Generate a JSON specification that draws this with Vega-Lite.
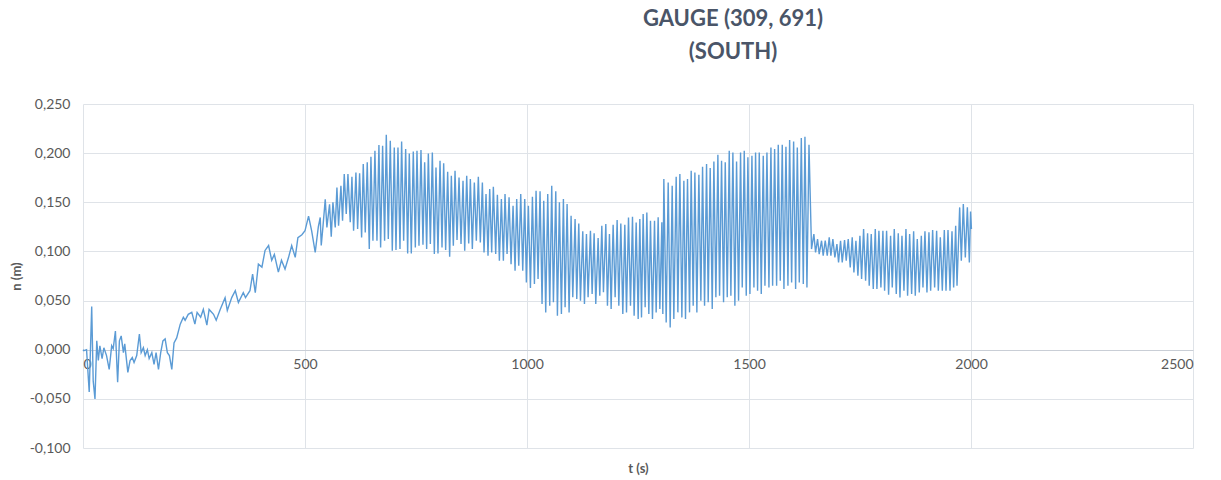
{
  "$schema": "https://vega.github.io/schema/vega-lite/v6.json",
  "width": 1110,
  "height": 344,
  "autosize": {"type": "none"},
  "padding": {"left": 83, "top": 104, "right": 28, "bottom": 32},
  "background": "white",
  "title": {
    "text": ["GAUGE (309, 691)", "(SOUTH)"],
    "anchor": "middle",
    "frame": "group",
    "dx": 95,
    "offset": 33,
    "font": "Lato",
    "fontSize": 22,
    "fontWeight": "bold",
    "color": "#4A5568",
    "lineHeight": 33
  },
  "config": {
    "view": {"stroke": null},
    "axis": {"labelFont": "Lato", "titleFont": "Lato", "labelColor": "#595959", "titleColor": "#595959"}
  },
  "data": {"values": [
    {"t":0,"n":0.000},{"t":2,"n":-0.001},{"t":8,"n":0.000},{"t":14,"n":-0.043},{"t":19.6,"n":0.044},{"t":23,"n":-0.032},{"t":27,"n":-0.050},{"t":31,"n":0.009},{"t":34.5,"n":-0.011},{"t":38,"n":0.004},{"t":43,"n":-0.009},{"t":47,"n":0.002},{"t":53,"n":-0.006},{"t":59,"n":-0.020},{"t":64.6,"n":0.004},{"t":68,"n":0.001},{"t":73,"n":0.019},{"t":78,"n":-0.033},{"t":82,"n":0.009},{"t":86,"n":0.014},{"t":91,"n":-0.003},{"t":94,"n":0.006},{"t":101,"n":-0.023},{"t":106,"n":-0.011},{"t":111,"n":-0.008},{"t":115,"n":-0.013},{"t":121,"n":-0.006},{"t":127,"n":0.016},{"t":131,"n":-0.003},{"t":136,"n":0.002},{"t":140,"n":-0.006},{"t":145,"n":0.000},{"t":149,"n":-0.009},{"t":155,"n":-0.003},{"t":160,"n":-0.015},{"t":164.6,"n":-0.003},{"t":170,"n":-0.020},{"t":175,"n":-0.003},{"t":180,"n":0.009},{"t":185,"n":0.011},{"t":190,"n":-0.003},{"t":194.6,"n":-0.006},{"t":200,"n":-0.020},{"t":205,"n":0.007},{"t":211,"n":0.012},{"t":219,"n":0.026},{"t":226,"n":0.033},{"t":230,"n":0.030},{"t":237,"n":0.036},{"t":245,"n":0.038},{"t":252,"n":0.026},{"t":257,"n":0.038},{"t":265,"n":0.033},{"t":271,"n":0.041},{"t":279,"n":0.025},{"t":284,"n":0.041},{"t":294,"n":0.036},{"t":300,"n":0.030},{"t":309,"n":0.041},{"t":320,"n":0.053},{"t":325,"n":0.040},{"t":335,"n":0.053},{"t":343,"n":0.060},{"t":350,"n":0.048},{"t":361,"n":0.058},{"t":366,"n":0.053},{"t":376,"n":0.060},{"t":382,"n":0.077},{"t":388,"n":0.058},{"t":395,"n":0.087},{"t":403,"n":0.084},{"t":410,"n":0.101},{"t":418,"n":0.106},{"t":425,"n":0.091},{"t":431,"n":0.097},{"t":440,"n":0.079},{"t":447,"n":0.091},{"t":455,"n":0.082},{"t":463,"n":0.094},{"t":470,"n":0.106},{"t":478,"n":0.094},{"t":484,"n":0.114},{"t":493,"n":0.117},{"t":500,"n":0.121},{"t":508,"n":0.136},{"t":515,"n":0.121},{"t":523,"n":0.099},{"t":530,"n":0.125},{"t":534.3,"n":0.1346},{"t":536.6,"n":0.106},{"t":540.3,"n":0.1245},
    {"t":545.6,"n":0.153},{"t":549.3,"n":0.1245},{"t":555.3,"n":0.148},{"t":559.1,"n":0.115},{"t":562.9,"n":0.1499},{"t":568.1,"n":0.1245},{"t":571.9,"n":0.1651},{"t":575.6,"n":0.1262},{"t":580.9,"n":0.1668},{"t":584.6,"n":0.1313},{"t":588.4,"n":0.1787},{"t":592.9,"n":0.1381},{"t":596.7,"n":0.1787},{"t":601.9,"n":0.1296},{"t":605.7,"n":0.176},{"t":609.4,"n":0.1211},{"t":614.7,"n":0.1804},{"t":618.5,"n":0.1228},{"t":623,"n":0.1794},{"t":627.5,"n":0.1143},{"t":631.2,"n":0.1889},{"t":635.7,"n":0.1194},{"t":640.2,"n":0.1906},{"t":644.8,"n":0.1024},{"t":648.5,"n":0.1963},{"t":653,"n":0.1109},{"t":657.5,"n":0.2024},{"t":662.1,"n":0.1109},{"t":666.5,"n":0.2082},{"t":670.3,"n":0.1041},{"t":674.8,"n":0.2075},{"t":679.3,"n":0.1109},{"t":683.1,"n":0.2187},{"t":687.6,"n":0.1126},{"t":692.1,"n":0.2126},{"t":696.6,"n":0.1007},{"t":701.1,"n":0.2058},{"t":704.9,"n":0.1014},{"t":709.4,"n":0.2058},{"t":713.9,"n":0.1024},{"t":717.6,"n":0.2119},{"t":722.2,"n":0.1109},{"t":726.7,"n":0.2041},{"t":731.2,"n":0.098},{"t":734.9,"n":0.1997},{"t":739.4,"n":0.098},{"t":743.9,"n":0.2017},{"t":748.5,"n":0.1041},{"t":752.2,"n":0.2024},{"t":756.7,"n":0.1058},{"t":761.2,"n":0.2031},{"t":765.7,"n":0.1068},{"t":769.5,"n":0.1906},{"t":774,"n":0.1024},{"t":777.8,"n":0.1997},{"t":782.3,"n":0.1075},{"t":786.8,"n":0.2007},{"t":791.3,"n":0.0973},{"t":795,"n":0.1855},{"t":799.5,"n":0.098},{"t":804.1,"n":0.1923},{"t":808.6,"n":0.1041},{"t":812.3,"n":0.1896},{"t":816.8,"n":0.1014},{"t":821.3,"n":0.1811},{"t":825.8,"n":0.0946},{"t":829.6,"n":0.177},{"t":834.1,"n":0.1058},{"t":837.9,"n":0.1821},{"t":842.4,"n":0.1116},{"t":846.9,"n":0.1753},{"t":851.4,"n":0.1075},{"t":855.9,"n":0.1719},{"t":859.7,"n":0.1007},{"t":864.2,"n":0.177},{"t":868.7,"n":0.1082},
    {"t":872.4,"n":0.1736},{"t":876.9,"n":0.1024},{"t":881.4,"n":0.1702},{"t":885.9,"n":0.1109},{"t":890.4,"n":0.176},{"t":894.9,"n":0.1092},{"t":899.5,"n":0.1702},{"t":903.2,"n":0.099},{"t":907.7,"n":0.1584},{"t":912.2,"n":0.0956},{"t":916,"n":0.1634},{"t":920.5,"n":0.099},{"t":924.2,"n":0.1658},{"t":929.5,"n":0.0973},{"t":933.3,"n":0.1577},{"t":937.8,"n":0.0905},{"t":942.3,"n":0.1533},{"t":946.8,"n":0.0905},{"t":950.5,"n":0.1584},{"t":955.1,"n":0.0973},{"t":959.6,"n":0.155},{"t":964.1,"n":0.0871},{"t":968.6,"n":0.1465},{"t":973.1,"n":0.0803},{"t":976.8,"n":0.1533},{"t":981.4,"n":0.0854},{"t":985.9,"n":0.1584},{"t":990.4,"n":0.0803},{"t":994.9,"n":0.1533},{"t":998.6,"n":0.0685},{"t":1003.1,"n":0.1465},{"t":1007.7,"n":0.0627},{"t":1012.2,"n":0.1557},{"t":1016.7,"n":0.0668},{"t":1020.4,"n":0.1617},{"t":1024.9,"n":0.0719},{"t":1029.4,"n":0.1611},{"t":1033.9,"n":0.0465},{"t":1037.7,"n":0.1516},{"t":1042.2,"n":0.038},{"t":1046.7,"n":0.1584},{"t":1051.2,"n":0.0448},{"t":1055.7,"n":0.1668},{"t":1059.5,"n":0.0482},{"t":1064.8,"n":0.1611},{"t":1068.5,"n":0.0346},{"t":1073,"n":0.1499},{"t":1077.5,"n":0.0363},{"t":1082,"n":0.1533},{"t":1085.8,"n":0.0431},{"t":1090.3,"n":0.1482},{"t":1094.8,"n":0.038},{"t":1099.3,"n":0.1363},{"t":1103.1,"n":0.0533},{"t":1108.3,"n":0.1329},{"t":1112.1,"n":0.0516},{"t":1116.6,"n":0.1285},{"t":1120.4,"n":0.0499},{"t":1125.6,"n":0.1204},{"t":1129.4,"n":0.0465},{"t":1133.9,"n":0.1177},{"t":1137.6,"n":0.0533},{"t":1142.9,"n":0.1211},{"t":1146.7,"n":0.0567},{"t":1151.2,"n":0.1184},{"t":1154.9,"n":0.0465},{"t":1160.2,"n":0.1136},{"t":1163.9,"n":0.055},{"t":1168.5,"n":0.1261},{"t":1172.2,"n":0.0584},{"t":1177.5,"n":0.1278},{"t":1181.2,"n":0.0448},{"t":1185.7,"n":0.1177},{"t":1189.5,"n":0.0414},{"t":1194,"n":0.1271},{"t":1198.5,"n":0.0533},{"t":1203,"n":0.1319},{"t":1206.8,"n":0.0448},{"t":1211.3,"n":0.1285},{"t":1215.8,"n":0.0363},{"t":1220.3,"n":0.1271},{"t":1224.1,"n":0.038},{"t":1228.6,"n":0.1346},{"t":1233.1,"n":0.0448},{"t":1237.6,"n":0.1353},{"t":1241.3,"n":0.0346},{"t":1245.9,"n":0.1295},{"t":1250.4,"n":0.0312},{"t":1254.1,"n":0.1329},
    {"t":1257.9,"n":0.0329},{"t":1261.6,"n":0.138},{"t":1266.1,"n":0.0431},{"t":1269.9,"n":0.1397},{"t":1274.4,"n":0.0363},{"t":1278.1,"n":0.1313},{"t":1282.6,"n":0.0312},{"t":1287.2,"n":0.1313},{"t":1290.9,"n":0.038},{"t":1295.4,"n":0.1347},{"t":1299.2,"n":0.0414},{"t":1303.7,"n":0.1296},{"t":1305.9,"n":0.0363},{"t":1308.2,"n":0.1736},{"t":1313.5,"n":0.0278},{"t":1318,"n":0.1702},{"t":1322.5,"n":0.0227},{"t":1327,"n":0.1668},{"t":1330.7,"n":0.0312},{"t":1336,"n":0.176},{"t":1339.8,"n":0.038},{"t":1344.3,"n":0.1787},{"t":1348.8,"n":0.0329},{"t":1353.3,"n":0.1719},{"t":1357,"n":0.0312},{"t":1361.5,"n":0.1736},{"t":1366.1,"n":0.038},{"t":1369.8,"n":0.1821},{"t":1374.3,"n":0.0448},{"t":1378.1,"n":0.1804},{"t":1382.6,"n":0.038},{"t":1387.1,"n":0.178},{"t":1391.6,"n":0.0499},{"t":1395.4,"n":0.1862},{"t":1399.9,"n":0.0448},{"t":1404.4,"n":0.1889},{"t":1408.1,"n":0.0482},{"t":1412.6,"n":0.1848},{"t":1417.2,"n":0.0414},{"t":1420.9,"n":0.1916},{"t":1425.4,"n":0.0533},{"t":1429.9,"n":0.1984},{"t":1433.7,"n":0.055},{"t":1438.2,"n":0.1923},{"t":1442.7,"n":0.0482},{"t":1446.5,"n":0.1906},{"t":1451,"n":0.0533},{"t":1455.5,"n":0.2024},{"t":1459.2,"n":0.055},{"t":1463.7,"n":0.2007},{"t":1468.2,"n":0.0448},{"t":1472,"n":0.1916},{"t":1476.5,"n":0.0499},{"t":1481,"n":0.2007},{"t":1484.8,"n":0.0634},{"t":1489.3,"n":0.2024},{"t":1493.8,"n":0.055},{"t":1497.5,"n":0.1957},{"t":1502.1,"n":0.0567},{"t":1506.6,"n":0.1974},{"t":1511.1,"n":0.0634},{"t":1514.8,"n":0.2007},{"t":1519.3,"n":0.06},{"t":1523.1,"n":0.2007},{"t":1527.6,"n":0.0567},{"t":1532.1,"n":0.1974},{"t":1535.9,"n":0.0651},{"t":1540.4,"n":0.2007},{"t":1544.9,"n":0.0634},{"t":1549.4,"n":0.2058},{"t":1553.2,"n":0.0651},{"t":1557.7,"n":0.2041},{"t":1562.2,"n":0.0651},{"t":1565.9,"n":0.2085},{"t":1570.4,"n":0.0702},{"t":1574.9,"n":0.2085},{"t":1578.7,"n":0.0617},{"t":1583.2,"n":0.2065},{"t":1587.7,"n":0.0651},{"t":1591.5,"n":0.2133},{"t":1596,"n":0.0685},{"t":1600.5,"n":0.2119},{"t":1605,"n":0.0617},{"t":1608.8,"n":0.2058},{"t":1613.3,"n":0.0685},{"t":1617.8,"n":0.2153},{"t":1622.3,"n":0.0668},{"t":1626,"n":0.2167},{"t":1630.5,"n":0.0634},{"t":1635.1,"n":0.2085},
    {"t":1640.8,"n":0.1024},{"t":1646.1,"n":0.1177},{"t":1649.9,"n":0.099},{"t":1654.4,"n":0.1126},{"t":1658.1,"n":0.0973},{"t":1663.4,"n":0.1109},{"t":1667.1,"n":0.0956},{"t":1671.7,"n":0.1109},{"t":1676.2,"n":0.0956},{"t":1680.7,"n":0.1143},{"t":1684.4,"n":0.0956},{"t":1688.9,"n":0.1126},{"t":1693.4,"n":0.0939},{"t":1698,"n":0.1075},{"t":1701.7,"n":0.0888},{"t":1706.2,"n":0.1109},{"t":1710,"n":0.0888},{"t":1715.2,"n":0.1116},{"t":1719,"n":0.0905},{"t":1723.5,"n":0.1126},{"t":1728,"n":0.0837},{"t":1732.5,"n":0.1143},{"t":1736.3,"n":0.0787},{"t":1740.8,"n":0.1109},{"t":1745.3,"n":0.0753},{"t":1749.8,"n":0.116},{"t":1753.6,"n":0.0719},{"t":1758.1,"n":0.1228},{"t":1762.6,"n":0.0702},{"t":1767.1,"n":0.1184},{"t":1770.8,"n":0.0651},{"t":1775.3,"n":0.1177},{"t":1779.9,"n":0.0617},{"t":1784.4,"n":0.1228},{"t":1788.1,"n":0.0617},{"t":1792.6,"n":0.1211},{"t":1797.1,"n":0.0634},{"t":1801.6,"n":0.1211},{"t":1805.4,"n":0.06},{"t":1809.9,"n":0.1211},{"t":1814.4,"n":0.0559},{"t":1818.9,"n":0.116},{"t":1822.7,"n":0.0634},{"t":1827.2,"n":0.1228},{"t":1831.7,"n":0.0566},{"t":1836.2,"n":0.1184},{"t":1840,"n":0.0532},{"t":1844.5,"n":0.116},{"t":1849,"n":0.06},{"t":1853.5,"n":0.1228},{"t":1857.2,"n":0.0549},{"t":1861.8,"n":0.1177},{"t":1866.3,"n":0.0566},{"t":1870.8,"n":0.1204},{"t":1874.5,"n":0.0549},{"t":1879,"n":0.1126},{"t":1883.5,"n":0.0583},{"t":1888.1,"n":0.116},{"t":1891.8,"n":0.0634},{"t":1896.3,"n":0.1204},{"t":1900.8,"n":0.0583},{"t":1905.3,"n":0.1194},{"t":1909.1,"n":0.06},{"t":1913.6,"n":0.1218},{"t":1918.1,"n":0.0634},{"t":1922.6,"n":0.1211},{"t":1926.4,"n":0.06},{"t":1930.9,"n":0.1143},{"t":1935.4,"n":0.06},{"t":1939.9,"n":0.1218},{"t":1943.7,"n":0.06},{"t":1948.2,"n":0.1218},{"t":1952.7,"n":0.06},{"t":1957.2,"n":0.1204},{"t":1960.9,"n":0.0634},{"t":1965.5,"n":0.1262},{"t":1968.5,"n":0.0651},{"t":1974.5,"n":0.1448},{"t":1978.2,"n":0.0905},{"t":1982.7,"n":0.1482},{"t":1987.2,"n":0.0939},{"t":1991.8,"n":0.1448},{"t":1996.3,"n":0.0888},{"t":1999,"n":0.1407},{"t":2001,"n":0.1228}
  ]},
  "mark": {"type": "line", "color": "#5B9BD5", "strokeWidth": 1.4, "interpolate": "linear"},
  "encoding": {
    "x": {
      "field": "t", "type": "quantitative",
      "scale": {"domain": [0, 2500], "nice": false, "zero": false},
      "axis": {
        "title": "t (s)", "titleFontWeight": "bold", "titleFontSize": 13,
        "titleY": 118, "titleBaseline": "middle",
        "values": [0, 500, 1000, 1500, 2000, 2500],
        "labelFontSize": 14, "labelPadding": 7,
        "offset": -98, "ticks": false,
        "domain": true, "domainColor": "#c9ced6", "domainWidth": 1,
        "grid": true, "gridColor": "#dfe3e8", "gridWidth": 1,
        "labelExpr": "datum.value"
      }
    },
    "y": {
      "field": "n", "type": "quantitative",
      "scale": {"domain": [-0.1, 0.25], "nice": false, "zero": false},
      "axis": {
        "title": "n (m)", "titleFontWeight": "bold", "titleFontSize": 13, "titlePadding": 6,
        "values": [-0.1, -0.05, 0, 0.05, 0.1, 0.15, 0.2, 0.25],
        "labelFontSize": 14, "labelPadding": 13,
        "ticks": false, "domain": false,
        "grid": true, "gridColor": "#dfe3e8", "gridWidth": 1,
        "labelExpr": "replace(replace(format(datum.value, '.3f'), '.', ','), '\u2212', '-')"
      }
    }
  }
}
